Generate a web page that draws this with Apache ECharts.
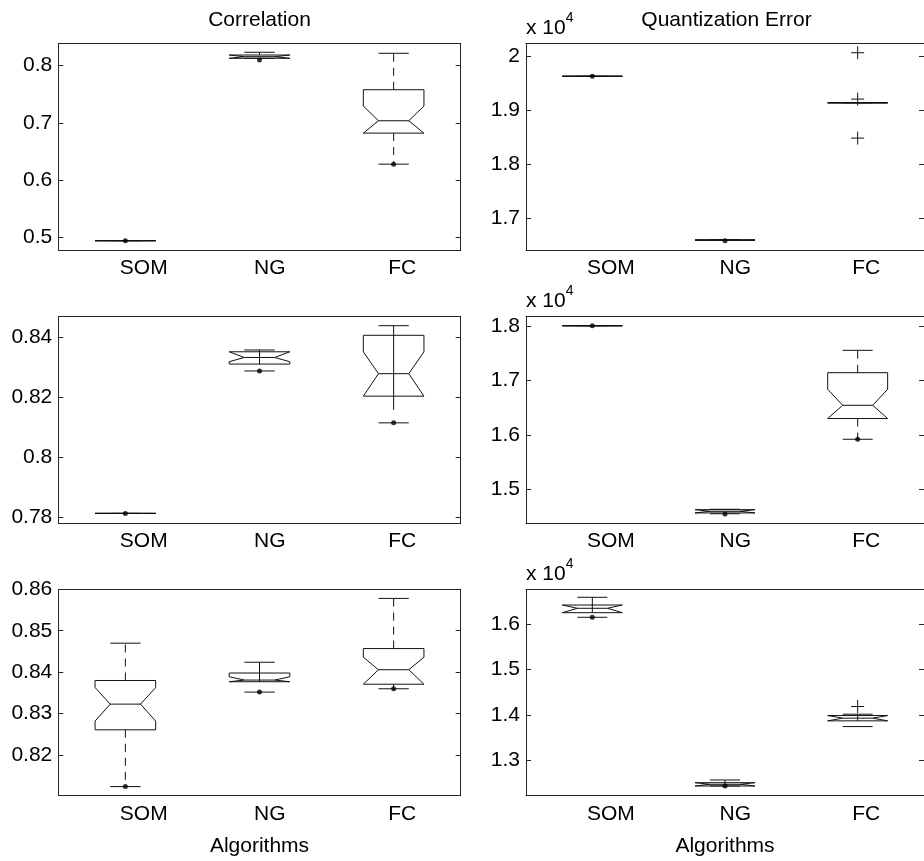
<!DOCTYPE html>
<html><head><meta charset="utf-8">
<script src="https://cdn.jsdelivr.net/npm/echarts@6/dist/echarts.min.js"></script>
<style>html,body{margin:0;padding:0;background:#fff}#c{width:924px;height:861px}</style>
</head><body><div id="c"></div>
<script>
// ---------------- DATA ----------------
const categories = ['SOM', 'NG', 'FC'];
const columnTitles = ['Correlation', 'Quantization Error'];
const xAxisTitle = 'Algorithms';

// Box stats per category: [lowerCap, q1, notchLow, median, notchHigh, q3, upperCap]
// Whisker segments: [categoryIndex, from, to, dashed(1/0)]
// Dots: one value per category (null = none); Outliers ('+'): [categoryIndex, value]

// Row 1 - Correlation
const corrTopTicks = [0.5, 0.6, 0.7, 0.8];
const corrTopRange = [0.4786, 0.8376];
const corrTopBoxes = [
  [0.4948, 0.4948, 0.4948, 0.4948, 0.4948, 0.4948, 0.4948],
  [0.8122, 0.8122, 0.8122, 0.8150, 0.8179, 0.8179, 0.8227],
  [0.628, 0.682, 0.682, 0.7035, 0.729, 0.7575, 0.8209]
];
const corrTopWhiskers = [[1, 0.8179, 0.8227, 0], [2, 0.7575, 0.8209, 1], [2, 0.682, 0.628, 1]];
const corrTopDots = [0.4948, 0.8092, 0.628];
const corrTopOutliers = [];

// Row 1 - Quantization Error
const qeTopTicks = [17000, 18000, 19000, 20000];
const qeTopRange = [16414, 20227];
const qeTopBoxes = [
  [19625, 19625, 19625, 19625, 19625, 19625, 19625],
  [16595, 16595, 16595, 16597, 16600, 16600, 16605],
  [19135, 19135, 19135, 19135, 19135, 19135, 19135]
];
const qeTopWhiskers = [];
const qeTopDots = [19625, 16587, null];
const qeTopOutliers = [[2, 20060], [2, 19203], [2, 18482]];

// Row 2 - Correlation
const corrMidTicks = [0.78, 0.80, 0.82, 0.84];
const corrMidRange = [0.7781, 0.8469];
const corrMidBoxes = [
  [0.7813, 0.7813, 0.7813, 0.7813, 0.7813, 0.7813, 0.7813],
  [0.8288, 0.8311, 0.8319, 0.8333, 0.8352, 0.8352, 0.8358],
  [0.8115, 0.8204, 0.8204, 0.8279, 0.8352, 0.8407, 0.8439]
];
const corrMidWhiskers = [[1, 0.8358, 0.8311, 0], [2, 0.8439, 0.8158, 0]];
const corrMidDots = [0.7813, 0.8288, 0.8115];
const corrMidOutliers = [];

// Row 2 - Quantization Error
const qeMidTicks = [15000, 16000, 17000, 18000];
const qeMidRange = [14380, 18171];
const qeMidBoxes = [
  [18005, 18005, 18005, 18005, 18005, 18005, 18005],
  [14550, 14565, 14565, 14595, 14625, 14625, 14632],
  [15919, 16300, 16300, 16543, 16837, 17142, 17553]
];
const qeMidWhiskers = [[2, 17142, 17553, 1], [2, 16300, 15919, 1]];
const qeMidDots = [18005, 14546, 15919];
const qeMidOutliers = [];

// Row 3 - Correlation
const corrBotTicks = [0.82, 0.83, 0.84, 0.85, 0.86];
const corrBotRange = [0.8103, 0.86];
const corrBotBoxes = [
  [0.8124, 0.8261, 0.8282, 0.8323, 0.8363, 0.8380, 0.8470],
  [0.8352, 0.8377, 0.8377, 0.8381, 0.8389, 0.8398, 0.8424],
  [0.8360, 0.8371, 0.8371, 0.8406, 0.8436, 0.8457, 0.8578]
];
const corrBotWhiskers = [[0, 0.8380, 0.8470, 1], [0, 0.8261, 0.8124, 1], [1, 0.8424, 0.8377, 0], [2, 0.8457, 0.8578, 1], [2, 0.8371, 0.8360, 0]];
const corrBotDots = [0.8124, 0.8352, 0.8360];
const corrBotOutliers = [];

// Row 3 - Quantization Error
const qeBotTicks = [13000, 14000, 15000, 16000];
const qeBotRange = [12229, 16764];
const qeBotBoxes = [
  [16148, 16249, 16249, 16346, 16418, 16418, 16588],
  [12434, 12434, 12434, 12471, 12507, 12507, 12566],
  [13742, 13868, 13868, 13927, 13985, 13985, 14015]
];
const qeBotWhiskers = [[0, 16588, 16249, 0], [1, 12566, 12434, 0], [2, 14015, 13868, 0]];
const qeBotDots = [16148, 12434, null];
const qeBotOutliers = [[2, 14183]];

// ---------------- LAYOUT / STYLE ----------------
const FONT = 'Liberation Sans, Arial, Helvetica, sans-serif';
const FS = 21;
const LINE = '#111';
const AXIS = '#262626';
const BOX_HALF = 0.226;      // half box width in category units
const LABEL_SHIFT = 0.041;   // label left-shift (category units)

const colLeft = [{left: 58.3, right: 463.3}, {left: 526, right: -2.5}];
const rowTop = [{top: 43.7, height: 206.3}, {top: 316.7, height: 206.3}, {top: 589.3, height: 206}];

const panels = [
  {col: 0, row: 0, kind: 'corr', ticks: corrTopTicks, range: corrTopRange, boxes: corrTopBoxes, whiskers: corrTopWhiskers, dots: corrTopDots, outliers: corrTopOutliers},
  {col: 1, row: 0, kind: 'qe', ticks: qeTopTicks, range: qeTopRange, boxes: qeTopBoxes, whiskers: qeTopWhiskers, dots: qeTopDots, outliers: qeTopOutliers},
  {col: 0, row: 1, kind: 'corr', ticks: corrMidTicks, range: corrMidRange, boxes: corrMidBoxes, whiskers: corrMidWhiskers, dots: corrMidDots, outliers: corrMidOutliers},
  {col: 1, row: 1, kind: 'qe', ticks: qeMidTicks, range: qeMidRange, boxes: qeMidBoxes, whiskers: qeMidWhiskers, dots: qeMidDots, outliers: qeMidOutliers},
  {col: 0, row: 2, kind: 'corr', ticks: corrBotTicks, range: corrBotRange, boxes: corrBotBoxes, whiskers: corrBotWhiskers, dots: corrBotDots, outliers: corrBotOutliers},
  {col: 1, row: 2, kind: 'qe', ticks: qeBotTicks, range: qeBotRange, boxes: qeBotBoxes, whiskers: qeBotWhiskers, dots: qeBotDots, outliers: qeBotOutliers}
];

const txt = {color: '#000', fontFamily: FONT, fontSize: FS};

function fmtCorr(v) { return String(Math.round(v * 1000) / 1000); }
function fmtQe(v) { return String(Math.round(v / 1000) / 10); }

function boxRender(params, api) {
  const i = api.value(0);
  const band = api.size([1, 0])[0];
  const hw = band * BOX_HALF, cw = hw / 2;
  const cx = api.coord([i, api.value(4)])[0];
  const y = k => api.coord([i, api.value(k)])[1];
  const lo = y(1), q1 = y(2), nlo = y(3), med = y(4), nhi = y(5), q3 = y(6), hi = y(7);
  const st = {stroke: LINE, lineWidth: 1, fill: null};
  return {type: 'group', children: [
    {type: 'polygon', shape: {points: [[cx - hw, q1], [cx - hw, nlo], [cx - cw, med], [cx - hw, nhi], [cx - hw, q3], [cx + hw, q3], [cx + hw, nhi], [cx + cw, med], [cx + hw, nlo], [cx + hw, q1]]}, style: Object.assign({}, st, {fill: 'none'})},
    {type: 'line', shape: {x1: cx - cw, y1: med, x2: cx + cw, y2: med}, style: st},
    {type: 'line', shape: {x1: cx - cw, y1: lo, x2: cx + cw, y2: lo}, style: st},
    {type: 'line', shape: {x1: cx - cw, y1: hi, x2: cx + cw, y2: hi}, style: st}
  ]};
}
function whiskerRender(params, api) {
  const i = api.value(0);
  const a = api.coord([i, api.value(1)]), b = api.coord([i, api.value(2)]);
  return {type: 'line', shape: {x1: a[0], y1: a[1], x2: b[0], y2: b[1]},
    style: {stroke: LINE, lineWidth: 1, lineDash: api.value(3) ? [8, 6] : null}};
}
function plusRender(params, api) {
  const p = api.coord([api.value(0), api.value(1)]);
  const s = 6.5;
  return {type: 'group', children: [
    {type: 'line', shape: {x1: p[0] - s, y1: p[1], x2: p[0] + s, y2: p[1]}, style: {stroke: LINE, lineWidth: 1}},
    {type: 'line', shape: {x1: p[0], y1: p[1] - s, x2: p[0], y2: p[1] + s}, style: {stroke: LINE, lineWidth: 1}}
  ]};
}

const grid = [], xAxis = [], yAxis = [], series = [];
panels.forEach((p, g) => {
  const c = colLeft[p.col], r = rowTop[p.row];
  grid.push({left: c.left, right: c.right, top: r.top, height: r.height, containLabel: false});
  const lineStyle = {color: AXIS, width: 1};
  // data x axis (bottom)
  xAxis.push({gridIndex: g, type: 'category', data: categories, boundaryGap: true, position: 'bottom',
    axisLine: {onZero: false, lineStyle}, axisTick: {inside: true, length: 4, alignWithLabel: true, lineStyle},
    axisLabel: {show: false}, splitLine: {show: false}});
  // label axis (bottom)
  const lab = {gridIndex: g, type: 'value', min: 0.5 + LABEL_SHIFT, max: 3.5 + LABEL_SHIFT, position: 'bottom',
    axisLine: {show: false}, axisTick: {show: false}, splitLine: {show: false},
    axisLabel: Object.assign({customValues: [1, 2, 3], formatter: v => categories[Math.round(v) - 1], align: 'left', margin: 8}, txt)};
  if (p.row === 2) {
    lab.name = xAxisTitle; lab.nameLocation = 'middle'; lab.nameGap = 40;
    lab.nameTextStyle = Object.assign({verticalAlign: 'top'}, txt);
  }
  xAxis.push(lab);
  // top frame axis
  xAxis.push({gridIndex: g, type: 'category', data: categories, boundaryGap: true, position: 'top',
    axisLine: {onZero: false, lineStyle}, axisTick: {inside: true, length: 4, alignWithLabel: true, lineStyle},
    axisLabel: {show: false}, splitLine: {show: false}});
  const fmt = p.kind === 'corr' ? fmtCorr : fmtQe;
  const left = {gridIndex: g, type: 'value', min: p.range[0], max: p.range[1], position: 'left',
    axisLine: {show: true, onZero: false, lineStyle},
    axisTick: {show: true, inside: true, length: 5, customValues: p.ticks, lineStyle},
    axisLabel: Object.assign({customValues: p.ticks, formatter: fmt, margin: 6}, txt),
    splitLine: {show: false}};
  if (p.kind === 'qe') {
    left.name = '{b|x 10}{sup|4}';
    left.nameLocation = 'end';
    left.nameGap = 18.5;
    left.nameTextStyle = Object.assign({align: 'left', verticalAlign: 'middle', rich: {
      b: {fontSize: FS, fontFamily: FONT, color: '#000', lineHeight: 28, verticalAlign: 'bottom'},
      sup: {fontSize: 14, fontFamily: FONT, color: '#000', lineHeight: 14, verticalAlign: 'top'}
    }}, txt);
  }
  yAxis.push(left);
  yAxis.push({gridIndex: g, type: 'value', min: p.range[0], max: p.range[1], position: 'right',
    axisLine: {show: true, onZero: false, lineStyle},
    axisTick: {show: true, inside: true, length: 5, customValues: p.ticks, lineStyle},
    axisLabel: {show: false}, splitLine: {show: false}});

  const xi = g * 3, yi = g * 2;
  series.push({type: 'custom', xAxisIndex: xi, yAxisIndex: yi, renderItem: whiskerRender, silent: true,
    encode: {x: 0, y: [1, 2]}, data: p.whiskers});
  series.push({type: 'custom', xAxisIndex: xi, yAxisIndex: yi, renderItem: boxRender, silent: true,
    encode: {x: 0, y: [1, 2, 3, 4, 5, 6, 7]}, data: p.boxes.map((b, i) => [i].concat(b))});
  series.push({type: 'custom', xAxisIndex: xi, yAxisIndex: yi, renderItem: plusRender, silent: true,
    encode: {x: 0, y: 1}, data: p.outliers});
  series.push({type: 'scatter', xAxisIndex: xi, yAxisIndex: yi, symbol: 'circle', symbolSize: 5, silent: true,
    itemStyle: {color: '#000'}, data: p.dots.map((v, i) => v == null ? null : [i, v]).filter(d => d)});
});

const title = columnTitles.map((t, k) => ({
  text: t, left: k === 0 ? 259.5 : 726.5, top: 9.5, padding: 0, textAlign: 'center',
  textStyle: {color: '#000', fontFamily: FONT, fontSize: FS, fontWeight: 'normal'}
}));

const chart = echarts.init(document.getElementById('c'), null, {renderer: 'canvas'});
chart.setOption({animation: false, backgroundColor: '#fff', title, grid, xAxis, yAxis, series});
</script>
</body></html>
